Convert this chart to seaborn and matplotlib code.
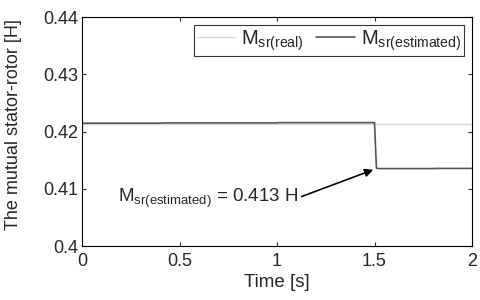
import numpy as np
import pandas as pd
import matplotlib
matplotlib.use("Agg")
import matplotlib.pyplot as plt
import seaborn as sns

# values
t_real = [0.0, 2.0]
m_real = [0.42128, 0.42128]

t_est = [0.0, 0.4, 0.41, 1.0, 1.01, 1.5, 1.51, 1.52, 1.8, 1.81, 2.0]
m_est = [0.42145, 0.42145, 0.4215, 0.4215, 0.42155, 0.42155, 0.4136, 0.41352, 0.41352, 0.41355, 0.41355]

x_ticks = [0, 0.5, 1, 1.5, 2]
x_labels = ["0", "0.5", "1", "1.5", "2"]
y_ticks = [0.4, 0.41, 0.42, 0.43, 0.44]
y_labels = ["0.4", "0.41", "0.42", "0.43", "0.44"]

sns.set_style("ticks")
plt.rcParams['font.family'] = ['Liberation Sans', 'DejaVu Sans']
plt.rcParams['mathtext.fontset'] = 'custom'
plt.rcParams['mathtext.rm'] = 'Liberation Sans'
plt.rcParams['mathtext.it'] = 'Liberation Sans'

df_real = pd.DataFrame({'t': t_real, 'm': m_real})
df_est = pd.DataFrame({'t': t_est, 'm': m_est})

fig = plt.figure(figsize=(4.8, 3.0), dpi=100)
ax = fig.add_axes([82 / 480, 54 / 300, 390 / 480, 229 / 300])

sns.lineplot(data=df_real, x='t', y='m', ax=ax, color='#d8d8d8', lw=1.0,
             label=r'M$_{\mathrm{sr(real)}}$')
sns.lineplot(data=df_est, x='t', y='m', ax=ax, color='#555555', lw=1.2,
             label=r'M$_{\mathrm{sr(estimated)}}$')

ax.set_xlim(0, 2)
ax.set_ylim(0.4, 0.44)
ax.set_xticks(x_ticks)
ax.set_xticklabels(x_labels)
ax.set_yticks(y_ticks)
ax.set_yticklabels(y_labels)
ax.tick_params(axis='both', direction='in', length=3, labelsize=13, top=True, right=True)
ax.tick_params(axis='x', pad=5)
ax.tick_params(axis='y', pad=3)
for s in ax.spines.values():
    s.set_linewidth(0.8)
    s.set_color('black')

ax.set_xlabel('Time [s]', fontsize=13.5, labelpad=3)
ax.set_ylabel('The mutual stator-rotor [H]', fontsize=13)
ax.yaxis.set_label_coords(-0.155, 0.53)

leg = ax.legend(loc='upper right', ncol=2, fontsize=14.5, frameon=True, fancybox=False,
                edgecolor='black', handlelength=1.9, handletextpad=0.3,
                columnspacing=0.6, borderpad=0.15, borderaxespad=0.4)
leg.get_frame().set_linewidth(0.8)

ax.annotate(r'M$_{\mathrm{sr(estimated)}}$ = 0.413 H', xy=(1.5, 0.4134),
            xytext=(0.185, 0.4076), fontsize=13.5, va='baseline',
            arrowprops=dict(arrowstyle='-|>', color='black', lw=1.2, relpos=(1, 0.55),
                            shrinkA=0, shrinkB=1, mutation_scale=12))

fig.savefig('out.png', dpi=100)
